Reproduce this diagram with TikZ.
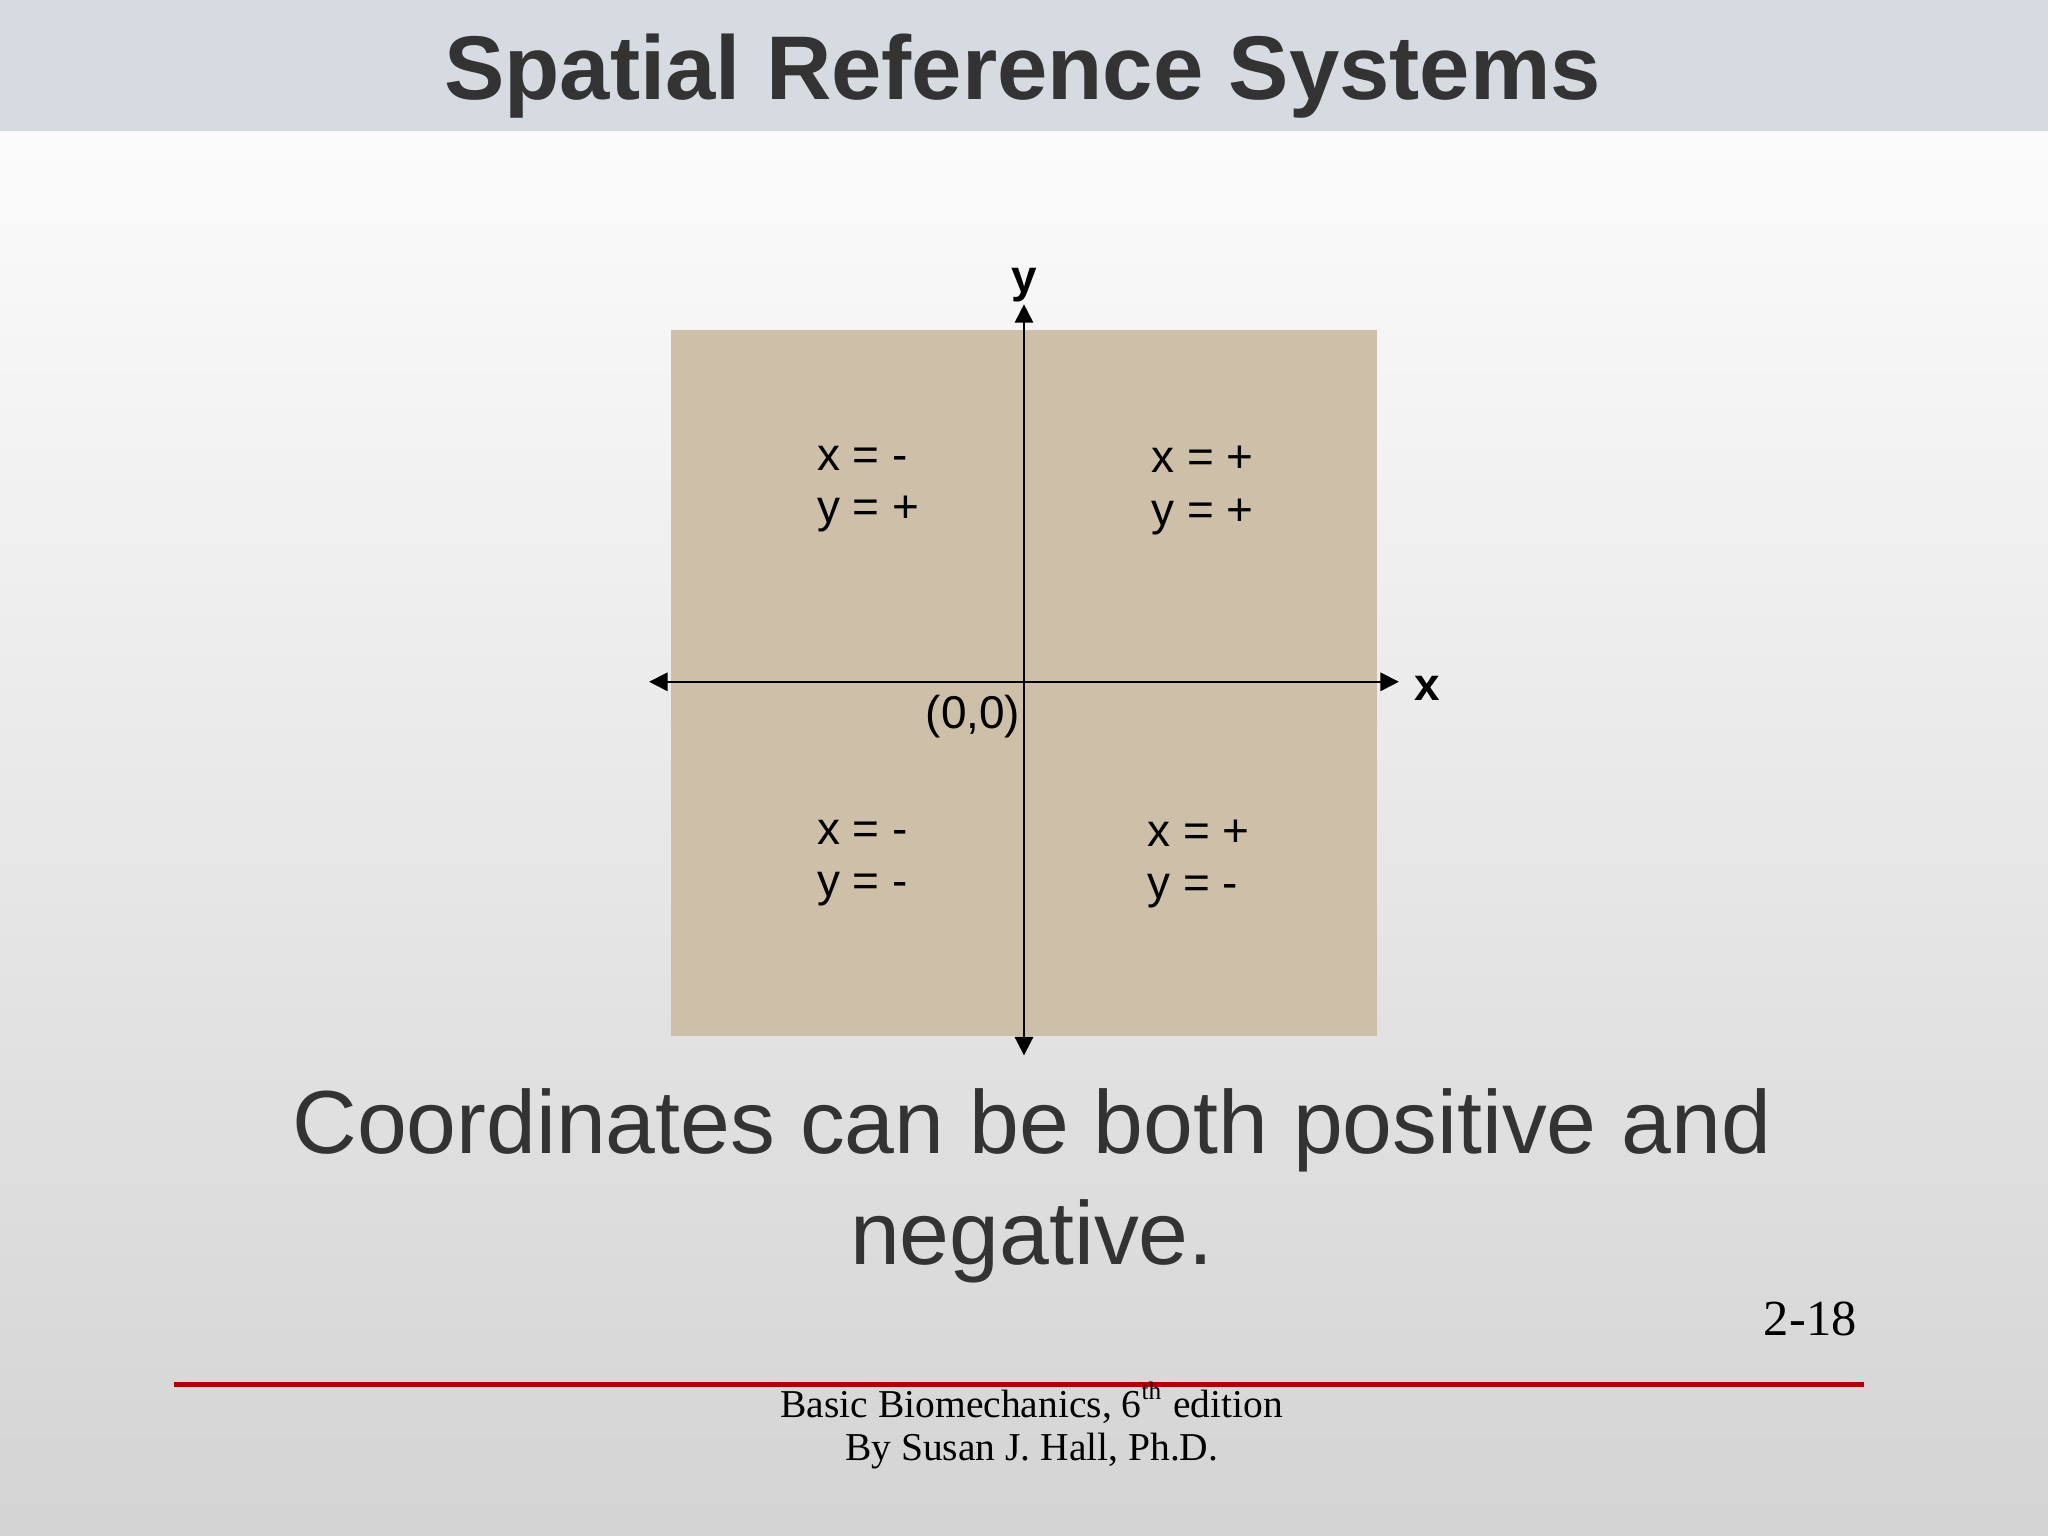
\documentclass[tikz,border=0pt]{standalone}
\usepackage{fontspec}
\setmainfont{Liberation Sans}
\newfontfamily\serif{Liberation Serif}
\usetikzlibrary{arrows.meta}
\definecolor{banner}{HTML}{D6DBE1}
\definecolor{tan}{HTML}{CDBFA8}
\definecolor{txt}{HTML}{333333}
\definecolor{redline}{HTML}{B00000}
\tikzset{ax/.style={line width=0.4pt,{Triangle[length=4pt,width=4pt]}-{Triangle[length=4pt,width=4pt]}},
 quad/.style={align=left,font=\fontsize{10}{11.4}\selectfont,anchor=north west,inner sep=0},
 foot/.style={font=\serif\fontsize{8.6}{10}\selectfont,inner sep=0}}
\begin{document}
\begin{tikzpicture}[x=0.01cm,y=-0.01cm]
\useasboundingbox (0,0) rectangle (1568,1176);
\shade[top color=white,bottom color=black!17] (0,0) rectangle (1568,1176);
\fill[banner] (0,0) rectangle (1568,100);
\node[font=\fontsize{19.7}{24}\selectfont\bfseries,text=txt] (title) at (783,58) {Spatial Reference Systems};
\fill[tan] (514,253) rectangle (1054,793);
\coordinate (l) at (497,522); \coordinate (r) at (1071,522);
\coordinate (t) at (784,233); \coordinate (b) at (784,808);
\draw[ax] (l) -- (r);
\draw[ax] (b) -- (t);
\node (ylab) at (784,218) {\fontsize{10}{12}\selectfont\bfseries y};
\node (xlab) at (1093,527) {\fontsize{10}{12}\selectfont\bfseries x};
\node[quad] (q2) at (625,341) {x = -\\y = +};
\node[quad] (q1) at (881,341) {x = +\\y = +};
\node[quad] (q3) at (625,627) {x = -\\y = -};
\node[quad] (q4) at (878,627) {x = +\\y = -};
\node[inner sep=0] (o) at (745,549) {\fontsize{10}{12}\selectfont(0,0)};
\node[align=center,text=txt,inner sep=0,font=\fontsize{19.5}{24}\selectfont] (main) at (790,908) {Coordinates can be both positive and\\negative.};
\node[inner sep=0] (pg) at (1386,1010) {\serif\fontsize{11}{13}\selectfont 2-18};
\draw[redline,line width=1.1pt] (133,1060) -- (1427,1060);
\node[foot] (f1) at (790,1074) {Basic Biomechanics, 6\textsuperscript{\fontsize{5.5}{6}\selectfont th} edition};
\node[foot] (f2) at (790,1111) {By Susan J. Hall, Ph.D.};
\end{tikzpicture}
\end{document}
